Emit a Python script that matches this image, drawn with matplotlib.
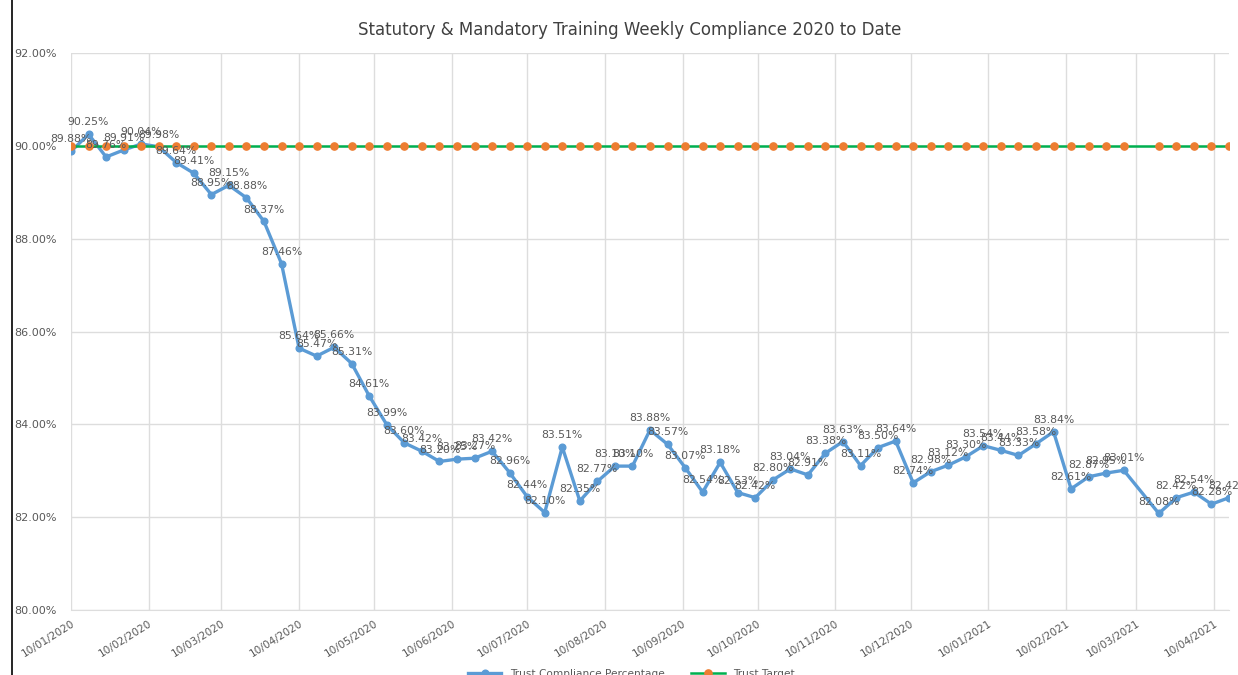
import matplotlib
matplotlib.use("Agg")
import matplotlib.pyplot as plt
import matplotlib.dates as mdates
from matplotlib.lines import Line2D
from matplotlib.ticker import FuncFormatter
import pandas as pd

# Weekly snapshot dates (Fridays); no return for 12/03/2021
week_dates = [d for d in pd.date_range("2020-01-10", "2021-04-16", freq="7D")
              if d != pd.Timestamp("2021-03-12")]

compliance_pct = [
    89.88, 90.25, 89.76, 89.91, 90.04, 89.98, 89.64, 89.41, 88.95, 89.15,
    88.88, 88.37, 87.46, 85.64, 85.47, 85.66, 85.31, 84.61, 83.99, 83.60,
    83.42, 83.20, 83.25, 83.27, 83.42, 82.96, 82.44, 82.10, 83.51, 82.35,
    82.77, 83.10, 83.10, 83.88, 83.57, 83.07, 82.54, 83.18, 82.53, 82.42,
    82.80, 83.04, 82.91, 83.38, 83.63, 83.11, 83.50, 83.64, 82.74, 82.98,
    83.12, 83.30, 83.54, 83.44, 83.33, 83.58, 83.84, 82.61, 82.87, 82.95,
    83.01, 82.08, 82.42, 82.54, 82.28, 82.42,
]
target_pct = [90.0] * len(week_dates)

series_names = ["Trust Compliance Percentage", "Trust Target"]
chart_title = "Statutory & Mandatory Training Weekly Compliance 2020 to Date"
y_ticks = [80, 82, 84, 86, 88, 90, 92]

BLUE = "#5B9BD5"
ORANGE = "#ED7D31"
GREEN = "#00B050"
GRID = "#DDDDDD"
TEXT = "#595959"

plt.rcParams["font.family"] = ["DejaVu Sans"]

fig = plt.figure(figsize=(12.38, 6.75), dpi=100)
ax = fig.add_axes([71 / 1238, 1 - 610 / 675, (1229 - 71) / 1238, (610 - 53) / 675])

ax.plot(week_dates, compliance_pct, color=BLUE, lw=2.4, marker="o", ms=4.8,
        mec=BLUE, mfc=BLUE, zorder=3, label=series_names[0])
ax.plot(week_dates, target_pct, color=GREEN, lw=1.8, marker="o", ms=5.2,
        mec=ORANGE, mfc=ORANGE, zorder=4, label=series_names[1])

for d, v in zip(week_dates, compliance_pct):
    ax.annotate(f"{v:.2f}%", (d, v), xytext=(0, 5), textcoords="offset points",
                ha="center", va="bottom", fontsize=7.8, color=TEXT, zorder=5)

ax.set_ylim(80, 92)
ax.set_yticks(y_ticks)
ax.yaxis.set_major_formatter(FuncFormatter(lambda v, _: f"{v:.2f}%"))
ax.set_xlim(week_dates[0], week_dates[-1])

# Month ticks on the 10th of each month
month_ticks = pd.date_range("2020-01-01", "2021-04-01", freq="MS") + pd.Timedelta(days=9)
ax.set_xticks(month_ticks)
ax.xaxis.set_major_formatter(mdates.DateFormatter("%d/%m/%Y"))
for lbl in ax.get_xticklabels():
    lbl.set_rotation(32)
    lbl.set_ha("right")
    lbl.set_rotation_mode("anchor")

ax.tick_params(axis="x", length=0, labelsize=7.6, labelcolor=TEXT, pad=6)
ax.tick_params(axis="y", length=0, labelsize=8, labelcolor=TEXT, pad=10)
ax.grid(True, color=GRID, lw=1.0)
ax.set_axisbelow(True)
for side in ["top", "right", "left"]:
    ax.spines[side].set_visible(False)
ax.spines["bottom"].set_color(GRID)

fig.text(0.509, 1 - 30 / 675, chart_title, ha="center", va="center",
         fontsize=12, color="#404040")

fig.legend(loc="center", bbox_to_anchor=(0.51, 0.002), ncol=2, frameon=False,
           fontsize=7.6, labelcolor=TEXT, handlelength=3.2, columnspacing=2.5)

fig.add_artist(Line2D([12 / 1238, 12 / 1238], [0, 1], transform=fig.transFigure,
                      color="black", lw=1.2))

fig.savefig("out.png", dpi=100, facecolor="white")
